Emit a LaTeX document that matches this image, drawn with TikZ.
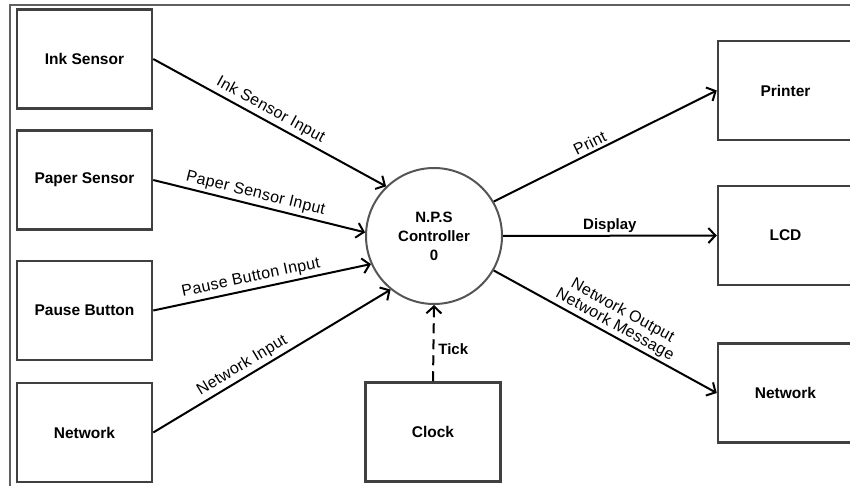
\documentclass[tikz,border=0pt]{standalone}
\usepackage{fontspec}
\setmainfont{Liberation Sans}
\newfontfamily\labfont{Liberation Sans}[LetterSpace=2]
\usetikzlibrary{arrows.meta}
\definecolor{boxgray}{HTML}{404040}
\definecolor{circgray}{HTML}{555555}
\definecolor{framegray}{HTML}{606060}
\begin{document}
\begin{tikzpicture}[x=1pt,y=-1pt,
  box/.style={draw=boxgray, line width=2.5pt, minimum width=135pt, minimum height=99pt,
    inner sep=0pt, fill=white, font=\fontsize{15.5}{18}\selectfont\bfseries},
  proc/.style={circle, draw=circgray, line width=2pt, minimum size=136pt, inner sep=0pt,
    align=center, font=\fontsize{15}{19}\selectfont\bfseries},
  flow/.style={line width=2pt, -{Straight Barb[length=7pt,width=15pt]}},
  lab/.style={sloped, above, inner sep=3pt, font=\labfont\fontsize{16}{16}\selectfont},
  hlab/.style={font=\fontsize{15}{18}\selectfont\bfseries}
]
\useasboundingbox (0,0) rectangle (850,486);
\clip (0,0) rectangle (850,486);
\draw[framegray, line width=1.5pt] (10,486) -- (10,5) -- (851,5);

\node[box] (ink) at (84.5,59) {Ink Sensor};
\node[box] (paper) at (84.5,180) {Paper Sensor};
\node[box] (pause) at (84.5,310.5) {Pause Button};
\node[box] (netin) at (84.5,432.5) {Network};
\node[box] (clock) at (433,432) {Clock};
\node[box] (printer) at (785.5,90.5) {Printer};
\node[box] (lcd) at (785.5,235.5) {LCD};
\node[box] (netout) at (785.5,393) {Network};

\node[proc] (c) at (434,236) {N.P.S\\Controller\\0};

\draw[flow] (ink.east) -- node[lab, pos=0.48] {Ink Sensor Input} (c.134);
\draw[flow] (paper.east) -- node[lab, pos=0.47] {Paper Sensor Input} (c.177);
\draw[flow] (pause.east) -- node[lab, pos=0.46] {Pause Button Input} (c.204);
\draw[flow] (netin.east) -- node[lab, pos=0.40] {Network Input} (c.231);
\draw[flow] (c.30) -- node[lab, pos=0.45] {Print} (printer.west);
\draw[flow] (c.0) -- node[above, inner sep=2pt, hlab] {Display} (lcd.west);
\draw[flow] (c.330) -- node[lab, pos=0.52, inner sep=2pt, align=center] {Network Output\\Network Message} (netout.west);
\draw[flow, dash pattern=on 10pt off 6pt] (clock.north) -- node[right, inner sep=4pt, hlab, pos=0.42] {Tick} (c.south);
\end{tikzpicture}
\end{document}
